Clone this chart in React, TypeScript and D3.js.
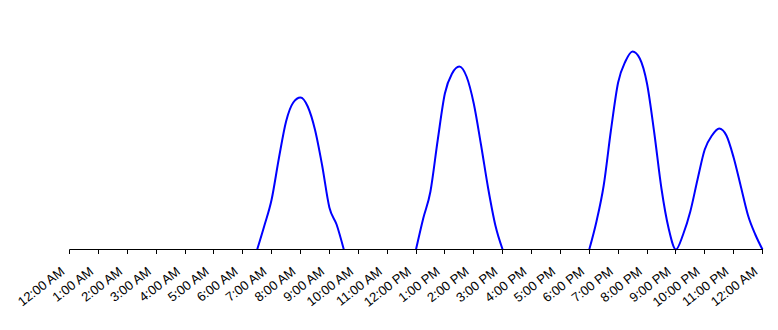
import React from "react";
import * as d3 from "d3";

// Hour tick labels (0..24)
const hourLabels: string[] = [
  "12:00 AM", "1:00 AM", "2:00 AM", "3:00 AM", "4:00 AM", "5:00 AM", "6:00 AM",
  "7:00 AM", "8:00 AM", "9:00 AM", "10:00 AM", "11:00 AM", "12:00 PM",
  "1:00 PM", "2:00 PM", "3:00 PM", "4:00 PM", "5:00 PM", "6:00 PM",
  "7:00 PM", "8:00 PM", "9:00 PM", "10:00 PM", "11:00 PM", "12:00 AM",
];

// Values sampled every 15 minutes from 12:00 AM to 12:00 AM (97 samples)
const quarterHourValues: number[] = [
  // 0:00 - 6:30
  0, 0, 0, 0, 0, 0, 0, 0, 0, 0, 0, 0, 0, 0, 0, 0, 0, 0, 0, 0, 0, 0, 0, 0, 0, 0, 0,
  // 6:45 - 9:15
  24, 50, 91, 128, 147, 152, 143, 120, 84, 42, 25,
  // 9:30 - 12:00
  0, 0, 0, 0, 0, 0, 0, 0, 0, 0, 0,
  // 12:15 - 2:45
  31, 58, 109, 156, 176, 183, 173, 146, 105, 61, 24,
  // 3:00 - 6:00
  0, 0, 0, 0, 0, 0, 0, 0, 0, 0, 0, 0, 0,
  // 6:15 - 8:45
  28, 64, 119, 167, 188, 198, 191, 166, 117, 61, 21,
  // 9:00
  0,
  // 9:15 - 11:45
  15, 38, 70, 100, 114, 121, 114, 92, 63, 34, 15,
  // 12:00
  0,
];

const W = 778;
const H = 330;
const X0 = 69.5;
const X1 = 762.5;
const Y0 = 249.5;

export default function App() {
  const x = d3.scaleLinear().domain([0, 24]).range([X0, X1]);
  const y = d3.scaleLinear().domain([0, 200]).range([Y0, Y0 - 200]);

  const pts = quarterHourValues.map((v, i) => ({ h: i / 4, v, i }));
  const n = quarterHourValues.length;
  const line = d3
    .line<{ h: number; v: number; i: number }>()
    .defined((d) => {
      const prev = d.i > 0 ? quarterHourValues[d.i - 1] : 0;
      const next = d.i < n - 1 ? quarterHourValues[d.i + 1] : 0;
      return d.v > 0 || prev > 0 || next > 0;
    })
    .x((d) => x(d.h))
    .y((d) => y(d.v))
    .curve(d3.curveMonotoneX);

  const ticks = d3.range(0, 25);

  return (
    <svg
      width={W}
      height={H}
      style={{ position: "absolute", left: 0, top: 0, display: "block", background: "#fff" }}
    >
      <path d={line(pts) || ""} fill="none" stroke="#0000FF" strokeWidth={2} strokeLinejoin="round" />
      <line x1={X0} x2={X1 + 0.5} y1={Y0} y2={Y0} stroke="#000" strokeWidth={1} />
      {ticks.map((t) => {
        const tx = Math.round(x(t) - 0.5) + 0.5;
        return (
          <g key={t}>
            <line x1={tx} x2={tx} y1={Y0} y2={Y0 + 4.5} stroke="#000" strokeWidth={1} />
            <text
              transform={`translate(${x(t) - 4},${273}) rotate(-38)`}
              textAnchor="end"
              fontFamily="Arial, 'Liberation Sans', sans-serif"
              fontSize={13}
              fill="#000"
            >
              {hourLabels[t]}
            </text>
          </g>
        );
      })}
    </svg>
  );
}
